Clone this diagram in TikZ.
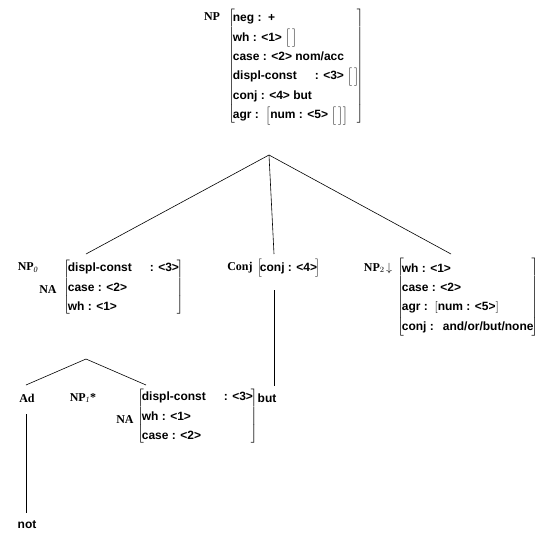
\documentclass[tikz,border=0pt]{standalone}
\usepackage{fontspec}
\setmainfont{Liberation Serif}
\setsansfont{Liberation Sans}
\usetikzlibrary{positioning}

% feature structures: bracketed column of feature lines
\newcommand{\avm}[1]{$\left[\!\begin{tabular}{@{}l@{}}#1\end{tabular}\!\right]$}
\newcommand{\emptyavm}{$\Big[\,\Big]$}
\newcommand{\featgap}{\hspace{18pt}}
\renewcommand{\arraystretch}{1.38}

\tikzset{
  cat/.style={font=\bfseries\fontsize{12}{14}\selectfont, inner sep=0pt},
  feat/.style={font=\sffamily\bfseries\fontsize{12}{14}\selectfont, inner sep=0pt, anchor=north west},
  word/.style={font=\sffamily\bfseries\fontsize{12}{14}\selectfont, inner sep=0pt},
  branch/.style={line width=0.6pt}
}

\begin{document}
\begin{tikzpicture}[x=1pt, y=-1pt]
\useasboundingbox (0,0) rectangle (552,541);

% Root: NP
\node[cat] (np) at (212,17) {NP};
\node[feat] (npavm) at (228,8) {\avm{neg :~~+\\
  wh : <1> \emptyavm\\
  case : <2> nom/acc\\
  displ-const\featgap: <3> \emptyavm\\
  conj : <4> but\\
  agr :~~$\left[\hbox{num : <5> \emptyavm}\right]$}};
\coordinate (root) at (269,155);

% Daughters
\node[cat] (np0) at (28,268) {NP$_{\mathit{0}}$};
\node[cat] (na0) at (48,290) {NA};
\node[feat] (np0avm) at (63,258) {\avm{displ-const\featgap: <3>\\
  case : <2>\\
  wh : <1>}};

\node[cat] (conj) at (240,268) {Conj};
\node[feat] (conjavm) at (257,258) {\avm{conj : <4>~}};

\node[cat] (np2) at (378,268) {NP$_2\!\downarrow$};
\node[feat] (np2avm) at (397,258) {\avm{wh : <1>\\
  case : <2>\\
  agr :~~$\left[\hbox{num : <5>}\right]$\\
  conj :\hspace{9pt}and/or/but/none}};

\coordinate (np0top) at (86,254);
\coordinate (conjtop) at (274,254);
\coordinate (np2top) at (451,254);

\draw[branch] (root) -- (np0top);
\draw[branch] (root) -- (conjtop);
\draw[branch] (root) -- (np2top);

% Auxiliary tree under NP0
\coordinate (sub) at (86,359);
\coordinate (adtop) at (26,385);
\coordinate (np1top) at (146,385);
\draw[branch] (sub) -- (adtop);
\draw[branch] (sub) -- (np1top);

\node[cat] (ad) at (27,398) {Ad};
\node[cat] (np1) at (83,398) {NP$_{\mathit{1}}$*};
\node[cat] (na1) at (125,420) {NA};
\node[feat] (np1avm) at (137,387) {\avm{displ-const\featgap: <3>\\
  wh : <1>\\
  case : <2>}};

% Lexical anchors
\node[word] (but) at (267,398) {but};
\node[word] (not) at (27,525) {not};

\coordinate (conjbot) at (274,290);
\coordinate (butup) at (274,386);
\draw[branch] (conjbot) -- (butup);

\coordinate (adbot) at (26,414);
\coordinate (notup) at (26,513);
\draw[branch] (adbot) -- (notup);

\end{tikzpicture}
\end{document}
